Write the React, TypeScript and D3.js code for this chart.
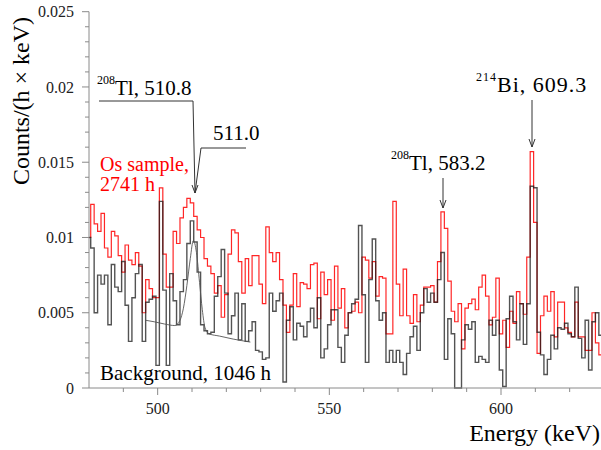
import React from "react";
import * as d3 from "d3";

const W = 601;
const H = 450;

// bins are 1 keV wide, centred on integer energies, first bin centre:
const FIRST_BIN = 480;

// Os sample spectrum, units of 1e-3 counts/(h x keV)
const osSample = [
  10.0, 12.2, 10.9, 10.4, 11.6, 9.3, 8.7, 10.4, 10.1, 8.8, // 480-489
  7.7, 9.5, 8.5, 8.2, 9.0, 8.1, 5.0, 7.2, 6.6, 6.0, // 490-499
  6.0, 13.3, 8.9, 6.7, 6.7, 10.4, 9.6, 11.3, 12.0, 12.6, // 500-509
  12.3, 11.4, 10.5, 10.0, 8.6, 8.1, 7.6, 6.3, 6.8, 4.7, // 510-519
  6.2, 8.9, 10.5, 10.3, 8.4, 6.3, 8.6, 6.8, 8.8, 8.8, // 520-529
  6.9, 5.6, 10.7, 9.0, 8.4, 9.0, 7.2, 5.5, 3.7, 5.5, // 530-539
  7.6, 5.4, 7.0, 6.9, 6.6, 8.2, 8.3, 4.6, 7.7, 6.2, // 540-549
  7.2, 4.5, 8.1, 5.3, 6.6, 4.0, 5.0, 5.1, 5.7, 5.0, // 550-559
  8.7, 8.5, 7.3, 8.4, 6.1, 7.4, 7.3, 3.6, 3.6, 12.4, // 560-569
  6.9, 4.8, 7.9, 4.8, 4.3, 6.2, 4.4, 5.5, 6.7, 6.7, // 570-579
  6.8, 5.7, 8.4, 11.7, 10.6, 7.1, 5.1, 4.4, 5.6, 2.6, // 580-589
  5.3, 5.6, 5.9, 5.2, 6.7, 7.5, 6.1, 4.2, 4.7, 7.3, // 590-599
  3.6, 4.5, 2.7, 5.1, 4.3, 6.4, 5.6, 4.9, 8.7, 15.7, // 600-609
  11.0, 2.3, 4.8, 6.1, 5.1, 6.4, 3.4, 5.7, 5.7, 4.0, // 610-619
  3.7, 3.4, 5.7, 3.4, 3.4, 2.5, 2.5, 5.0, 3.0, 2.2, // 620-629
  2.5, // 630
];

// Background spectrum, units of 1e-3 counts/(h x keV)
const background = [
  10.0, 9.3, 5.0, 7.5, 6.9, 7.5, 4.2, 8.2, 6.7, 6.4, // 480-489
  8.4, 5.5, 3.1, 6.0, 7.6, 8.2, 3.1, 5.7, 5.9, 6.1, // 490-499
  1.5, 12.4, 6.5, 1.5, 7.6, 5.8, 4.2, 6.4, 7.2, 9.6, // 500-509
  11.1, 9.7, 7.7, 4.2, 3.8, 3.6, 3.7, 6.1, 7.4, 9.2, // 510-519
  6.3, 3.6, 4.8, 6.3, 3.2, 5.6, 3.1, 3.8, 4.4, 2.5, // 520-529
  2.4, 1.9, 2.0, 6.3, 5.1, 5.8, 6.3, 0.4, 4.5, 5.4, // 530-539
  3.2, 4.3, 4.1, 3.4, 4.4, 5.3, 4.0, 6.0, 2.0, 2.6, // 540-549
  4.2, 5.2, 5.2, 2.7, 1.7, 3.5, 5.0, 5.6, 5.9, 10.8, // 550-559
  6.2, 1.7, 7.2, 9.9, 5.8, 4.5, 5.0, 1.7, 2.5, 1.7, // 560-569
  2.5, 1.7, 0.9, 2.3, 3.4, 4.1, 2.5, 5.0, 6.6, 5.7, // 570-579
  6.3, 5.7, 7.2, 9.0, 1.9, 4.6, 3.6, 0.0, 0.0, 3.2, // 580-589
  4.2, 3.9, 4.4, 1.7, 2.1, 1.9, 1.7, 4.5, 3.5, 4.5, // 590-599
  1.2, 0.1, 4.6, 6.1, 4.4, 3.2, 5.6, 2.9, 5.6, 13.4, // 600-609
  13.3, 3.7, 2.2, 0.9, 1.9, 3.5, 2.6, 4.0, 3.9, 4.3, // 610-619
  3.6, 3.4, 6.7, 3.3, 2.0, 4.5, 1.2, 4.4, 5.0, 3.5, // 620-629
  3.0, // 630
];

// fitted 511 keV peak on linear background (keV, 1e-3)
const fitEnergy = [496.5, 499, 502, 505, 506.5, 507.5, 508.5, 509.5, 510.4, 511.3, 512.2, 513, 513.8, 515, 518, 522, 527];
const fitValue = [4.5, 4.4, 4.25, 4.15, 4.5, 5.3, 6.8, 8.6, 9.8, 9.0, 7.0, 5.2, 4.0, 3.6, 3.45, 3.25, 3.05];

const yTickValues = [0, 0.005, 0.01, 0.015, 0.02, 0.025];
const yTickLabels = ["0", "0.005", "0.01", "0.015", "0.02", "0.025"];
const xTickValues = [500, 550, 600];
const xTickLabels = ["500", "550", "600"];

const SERIF = '"Liberation Serif", "DejaVu Serif", "Times New Roman", Times, serif';

export default function App() {
  const x = d3.scaleLinear().domain([480, 630]).range([89, 604]);
  const y = d3.scaleLinear().domain([0, 0.025]).range([388, 11.7]);

  const stepPath = (vals: number[]) => {
    let d = "";
    vals.forEach((v, i) => {
      const c = FIRST_BIN + i;
      const x0 = x(c - 0.5);
      const x1 = x(c + 0.5);
      const yy = y(v * 1e-3);
      d += (i === 0 ? `M${x0},${yy}` : `V${yy}`) + `H${x1}`;
    });
    return d;
  };

  const fitLine = d3
    .line<number>()
    .x((_, i) => x(fitEnergy[i]))
    .y((v) => y(v * 1e-3))
    .curve(d3.curveMonotoneX)(fitValue) as string;

  const yMinor = d3.range(0, 0.02501, 0.001);
  const xMinor = d3.range(490, 631, 10);
  const axisColor = "#8a8a8a";

  const arrowHead = (ax: number, ay: number) =>
    `M${ax - 3},${ay - 8}L${ax},${ay}L${ax + 3},${ay - 8}`;

  return (
    <svg
      width={W}
      height={H}
      style={{ position: "fixed", left: 0, top: 0, background: "#fff", fontFamily: SERIF }}
    >
      <defs>
        <clipPath id="plotClip">
          <rect x={89} y={0} width={W - 89} height={389.5} />
        </clipPath>
      </defs>

      {/* histograms */}
      <g clipPath="url(#plotClip)" fill="none">
        <path d={stepPath(osSample)} stroke="#ff0000" strokeWidth={1.2} strokeOpacity={0.85} />
        <path d={stepPath(background)} stroke="#1a1a1a" strokeWidth={1.4} strokeOpacity={0.75} />
        <path d={fitLine} stroke="#555" strokeWidth={0.9} />
      </g>

      {/* axes */}
      <g stroke={axisColor} strokeWidth={1} fill="none">
        <line x1={89} x2={89} y1={y(0.025)} y2={388} />
        <line x1={89} x2={W} y1={388} y2={388} />
        {yMinor.map((v, i) => (
          <line key={"ym" + i} x1={i % 5 === 0 ? 82 : 85} x2={89} y1={y(v)} y2={y(v)} />
        ))}
        {xMinor.map((v, i) => (
          <line key={"xm" + i} x1={x(v)} x2={x(v)} y1={388} y2={v % 50 === 0 ? 395 : 392} />
        ))}
      </g>
      <g fontSize={16} fill="#222">
        {yTickValues.map((v, i) => (
          <text key={"yl" + i} x={74} y={y(v)} dy="0.35em" textAnchor="end">
            {yTickLabels[i]}
          </text>
        ))}
        {xTickValues.map((v, i) => (
          <text key={"xl" + i} x={x(v)} y={414} textAnchor="middle">
            {xTickLabels[i]}
          </text>
        ))}
      </g>

      {/* axis titles */}
      <text
        transform={`translate(29,101) rotate(-90)`}
        textAnchor="middle"
        fontSize={24}
        fill="#000"
      >
        Counts/(h × keV)
      </text>
      <text x={600} y={441} textAnchor="end" fontSize={24} fill="#000">
        Energy (keV)
      </text>

      {/* annotations */}
      <g fontSize={21} fill="#000">
        <text x={97} y={95}>
          <tspan fontSize={12} dy={-11}>208</tspan>
          <tspan dy={11}>Tl, 510.8</tspan>
        </text>
        <text x={213} y={140}>511.0</text>
        <text x={391} y={170}>
          <tspan fontSize={12} dy={-11}>208</tspan>
          <tspan dy={11}>Tl, 583.2</tspan>
        </text>
        <text x={476} y={92} fontSize={22} letterSpacing={1}>
          <tspan fontSize={12} dy={-11}>214</tspan>
          <tspan dy={11}>Bi, 609.3</tspan>
        </text>
        <text x={100} y={380}>Background, 1046 h</text>
      </g>
      <g fontSize={20} fill="#ff0000">
        <text x={100} y={171}>Os sample,</text>
        <text x={100} y={191}>2741 h</text>
      </g>

      <g stroke="#333" strokeWidth={1} fill="none">
        <path d={`M99,101H193L195,193`} />
        <path d={`M246,148H201L195,193`} />
        <path d={arrowHead(195, 193)} />
        <path d={`M443,178V208`} />
        <path d={arrowHead(443, 208)} />
        <path d={`M532,100V147`} />
        <path d={arrowHead(532, 147)} />
      </g>
    </svg>
  );
}
